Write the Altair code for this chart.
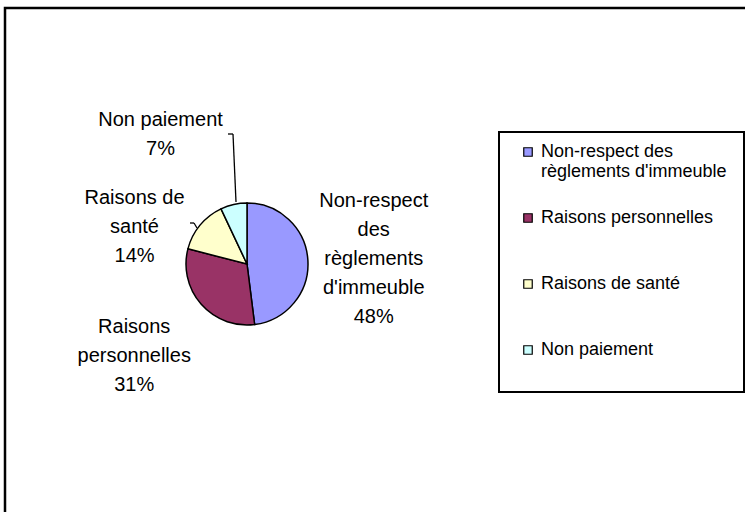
import altair as alt
import pandas as pd
import numpy as np

# ---- data ----
categories = ["Non-respect des règlements d'immeuble", "Raisons personnelles",
              "Raisons de santé", "Non paiement"]
values = [48, 31, 14, 7]
pie_labels = ["Non-respect\ndes\nrèglements\nd'immeuble\n48%",
              "Raisons\npersonnelles\n31%",
              "Raisons de\nsanté\n14%",
              "Non paiement\n7%"]
colors = ["#9999FF", "#993366", "#FFFFCC", "#CCFFFF"]

total = float(sum(values))
cum_end = np.cumsum(values)
cum_start = cum_end - np.array(values)
df = pd.DataFrame({
    "cat": categories,
    "value": values,
    "idx": list(range(len(values))),
    "label": pie_labels,
    "mid": (cum_start + cum_end) / 2.0,
})

# ---- layout constants ----
W, H = 745, 512
CX, CY, R = 247, 264, 61
FONT = "Liberation Sans"

theta_scale = alt.Scale(domain=[0, total])

legend_expr = ('datum.label == "Non-respect des règlements d\'immeuble" ? '
               '["Non-respect des", "règlements d\'immeuble"] : datum.label')

# outer frame and legend box
frame = alt.Chart(pd.DataFrame({"a": [0]})).mark_rect(
    fillOpacity=0, stroke="black", strokeWidth=2.5
).encode(x=alt.value(5), y=alt.value(8), x2=alt.value(W + 40), y2=alt.value(H + 40))

legend_box = alt.Chart(pd.DataFrame({"a": [0]})).mark_rect(
    fillOpacity=0, stroke="black", strokeWidth=2
).encode(x=alt.value(499), y=alt.value(132), x2=alt.value(744), y2=alt.value(392))

arc = alt.Chart(df).mark_arc(outerRadius=R, stroke="black", strokeWidth=1.5).encode(
    theta=alt.Theta("value:Q", stack=True, scale=theta_scale),
    color=alt.Color(
        "cat:N",
        scale=alt.Scale(domain=categories, range=colors),
        legend=alt.Legend(
            title=None, orient="none", legendX=519, legendY=143,
            symbolType="square", symbolSize=72, symbolStrokeColor="black",
            symbolStrokeWidth=1.2, labelFont=FONT, labelFontSize=18,
            labelLimit=400, labelColor="black", rowPadding=28,
            gridAlign="all", labelOffset=4, labelExpr=legend_expr,
        ),
    ),
    order=alt.Order("idx:Q"),
    x=alt.value(CX), y=alt.value(CY),
)

# label placement per slice: (radius, dx, dy)
placement = {
    categories[0]: (127, 0, -55),
    categories[1]: (145, -4, -33),
    categories[2]: (120, -20, 10),
    categories[3]: (135, -57, -12),
}

text_layers = []
for cat, (rad, dx, dy) in placement.items():
    t = alt.Chart(df).transform_filter(
        alt.datum.cat == cat
    ).mark_text(
        radius=rad, dx=dx, dy=dy, font=FONT, fontSize=20, lineHeight=29,
        lineBreak="\n", align="center", baseline="middle", color="black"
    ).encode(
        theta=alt.Theta("mid:Q", scale=theta_scale),
        text="label:N",
        x=alt.value(CX), y=alt.value(CY),
    )
    text_layers.append(t)

# leader lines
segments = [
    (228, 134, 233, 134),
    (233, 134, 236, 202),
    (190, 223, 194, 223),
    (194, 223, 197, 228),
]
leaders = [
    alt.Chart(pd.DataFrame({"a": [0]})).mark_rule(color="black", strokeWidth=1.3).encode(
        x=alt.value(x1), y=alt.value(y1), x2=alt.value(x2), y2=alt.value(y2))
    for (x1, y1, x2, y2) in segments
]

chart = alt.layer(frame, legend_box, arc, *text_layers, *leaders).properties(
    width=W, height=H, autosize="none", padding=0, background="white"
).configure_view(stroke=None)

chart.save("out.html", embed_options={"renderer": "svg", "actions": False})
